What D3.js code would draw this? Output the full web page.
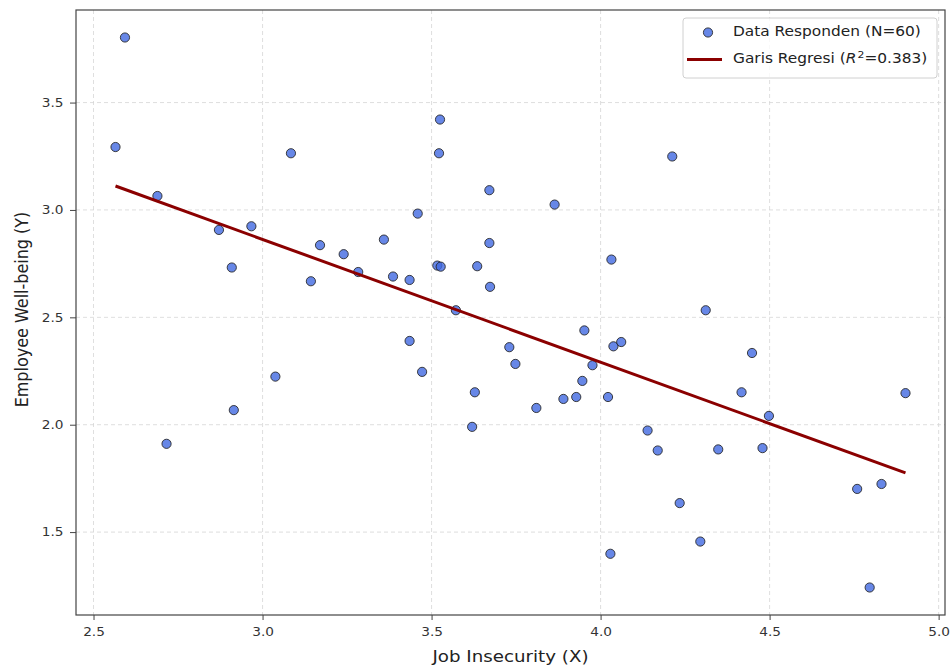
<!DOCTYPE html>
<html>
<head>
<meta charset="utf-8">
<style>
  body { margin: 0; background: #fff; }
  svg { display: block; font-family: "DejaVu Sans", sans-serif; }
</style>
</head>
<body>
<svg width="951" height="670"></svg>
<script src="https://d3js.org/d3.v7.min.js"></script>
<script>

// values
var jobInsecurity = [
  2.593, 2.565, 2.689, 2.871, 2.967, 2.909, 3.084, 3.143, 3.170, 3.240,
  3.283, 3.359, 3.386, 3.435, 3.459, 3.525, 3.522, 3.517, 3.527, 3.572,
  3.635, 3.671, 3.671, 3.673, 3.864, 4.032, 4.212, 4.311, 2.716, 2.915,
  3.038, 3.435, 3.472, 3.628, 3.620, 3.730, 3.748, 3.810, 3.890, 3.928,
  3.946, 3.952, 3.976, 4.022, 4.038, 4.061, 4.029, 4.139, 4.169, 4.234,
  4.295, 4.348, 4.417, 4.448, 4.479, 4.498, 4.759, 4.831, 4.796, 4.902
];
var wellBeing = [
  3.803, 3.293, 3.065, 2.907, 2.924, 2.732, 3.264, 2.668, 2.836, 2.794,
  2.711, 2.862, 2.690, 2.674, 2.983, 3.421, 3.264, 2.741, 2.736, 2.533,
  2.738, 3.092, 2.846, 2.642, 3.025, 2.769, 3.249, 2.533, 1.911, 2.068,
  2.224, 2.390, 2.246, 2.151, 1.990, 2.361, 2.283, 2.078, 2.120, 2.129,
  2.204, 2.439, 2.277, 2.129, 2.365, 2.385, 1.399, 1.973, 1.880, 1.635,
  1.456, 1.885, 2.151, 2.334, 1.891, 2.041, 1.701, 1.724, 1.242, 2.147
];
var xTicks = [2.5, 3.0, 3.5, 4.0, 4.5, 5.0];
var yTicks = [1.5, 2.0, 2.5, 3.0, 3.5];
var regIntercept = 4.578,
    regSlope = -0.5717;
var pointLabel = "Data Responden (N=60)";
var lineLabel = "Garis Regresi (";
var r2Text = "=0.383)";

// the picture is a little wider than tall, text gets the same stretch
var sx = 1.14;

var svg = d3.select("svg"),
    margin = {top: 10, right: 6, bottom: 55, left: 76},
    width = +svg.attr("width") - margin.left - margin.right,
    height = +svg.attr("height") - margin.top - margin.bottom,
    g = svg.append("g").attr("transform", "translate(" + margin.left + "," + margin.top + ")");

var data = jobInsecurity.map(function(v, i) { return {x: v, y: wellBeing[i]}; });

// matplotlib style 5% padding around the data
function padded(ext) {
  var r = ext[1] - ext[0];
  return [ext[0] - 0.05 * r, ext[1] + 0.05 * r];
}
var xExt = d3.extent(jobInsecurity),
    yExt = d3.extent(wellBeing);

var x = d3.scaleLinear().domain(padded(xExt)).range([0, width]);
var y = d3.scaleLinear().domain(padded(yExt)).range([height, 0]);

// grid
g.append("g").selectAll("line")
  .data(xTicks)
  .enter().append("line")
    .attr("x1", function(d) { return x(d); })
    .attr("x2", function(d) { return x(d); })
    .attr("y1", 0).attr("y2", height)
    .attr("stroke", "#d6d6d6").attr("stroke-width", 0.8)
    .attr("stroke-dasharray", "4,3");

g.append("g").selectAll("line")
  .data(yTicks)
  .enter().append("line")
    .attr("y1", function(d) { return y(d); })
    .attr("y2", function(d) { return y(d); })
    .attr("x1", 0).attr("x2", width)
    .attr("stroke", "#d6d6d6").attr("stroke-width", 0.8)
    .attr("stroke-dasharray", "4,3");

// points
g.append("g").selectAll("circle")
  .data(data)
  .enter().append("circle")
    .attr("cx", function(d) { return x(d.x); })
    .attr("cy", function(d) { return y(d.y); })
    .attr("r", 4.6)
    .attr("fill", "#4169e1").attr("fill-opacity", 0.8)
    .attr("stroke", "#222").attr("stroke-opacity", 0.85)
    .attr("stroke-width", 1);

// regression line
var fit = xExt.map(function(v) { return {x: v, y: regIntercept + regSlope * v}; });
var line = d3.line()
    .x(function(d) { return x(d.x); })
    .y(function(d) { return y(d.y); });

g.append("path")
    .datum(fit)
    .attr("fill", "none")
    .attr("stroke", "#8b0000")
    .attr("stroke-width", 3)
    .attr("d", line);

// axes
var xAxis = g.append("g")
    .attr("transform", "translate(0," + height + ")")
    .call(d3.axisBottom(x).tickValues(xTicks).tickFormat(d3.format(".1f")).tickSizeOuter(0).tickSize(5).tickPadding(7));
var yAxis = g.append("g")
    .call(d3.axisLeft(y).tickValues(yTicks).tickFormat(d3.format(".1f")).tickSizeOuter(0).tickSize(6).tickPadding(5));

[xAxis, yAxis].forEach(function(a) {
  a.select(".domain").remove();
  a.selectAll("line").attr("stroke", "#444");
  a.selectAll("text")
    .attr("fill", "#333")
    .attr("transform", "scale(" + sx + ",1)")
    .style("font-family", "DejaVu Sans")
    .style("font-size", "12px");
});

// frame
g.append("rect")
    .attr("width", width).attr("height", height)
    .attr("fill", "none")
    .attr("stroke", "#444").attr("stroke-width", 1.2);

// axis labels, centred on the plot area
svg.append("text")
    .attr("transform", "translate(" + (margin.left + width / 2) + ",662) scale(" + sx + ",1)")
    .attr("text-anchor", "middle")
    .attr("fill", "#222")
    .style("font-size", "16px")
    .text("Job Insecurity (X)");

svg.append("text")
    .attr("transform", "translate(28," + (margin.top + height / 2 - 3) + ") scale(" + sx + ",1) rotate(-90)")
    .attr("text-anchor", "middle")
    .attr("fill", "#222")
    .style("font-size", "16px")
    .text("Employee Well-being (Y)");

// legend
var lg = svg.append("g").attr("transform", "translate(683,18)");
lg.append("rect")
    .attr("width", 254).attr("height", 60)
    .attr("rx", 3)
    .attr("fill", "#fff").attr("fill-opacity", 0.8)
    .attr("stroke", "#d0d0d0");
lg.append("circle")
    .attr("cx", 25).attr("cy", 14.5).attr("r", 4.6)
    .attr("fill", "#4169e1").attr("fill-opacity", 0.8)
    .attr("stroke", "#222").attr("stroke-opacity", 0.85);
lg.append("line")
    .attr("x1", 4).attr("x2", 39).attr("y1", 41.5).attr("y2", 41.5)
    .attr("stroke", "#8b0000").attr("stroke-width", 3);
lg.append("text")
    .attr("transform", "translate(50,18) scale(" + sx + ",1)")
    .attr("fill", "#222")
    .style("font-size", "13.5px")
    .text(pointLabel);
var t2 = lg.append("text")
    .attr("transform", "translate(50,45) scale(" + sx + ",1)")
    .attr("fill", "#222")
    .style("font-size", "13.5px");
t2.append("tspan").text(lineLabel);
t2.append("tspan").style("font-style", "italic").text("R");
t2.append("tspan").attr("dy", -5).attr("dx", 1).style("font-size", "9.5px").text("2");
t2.append("tspan").attr("dy", 5).text(r2Text);

</script>
</body>
</html>
